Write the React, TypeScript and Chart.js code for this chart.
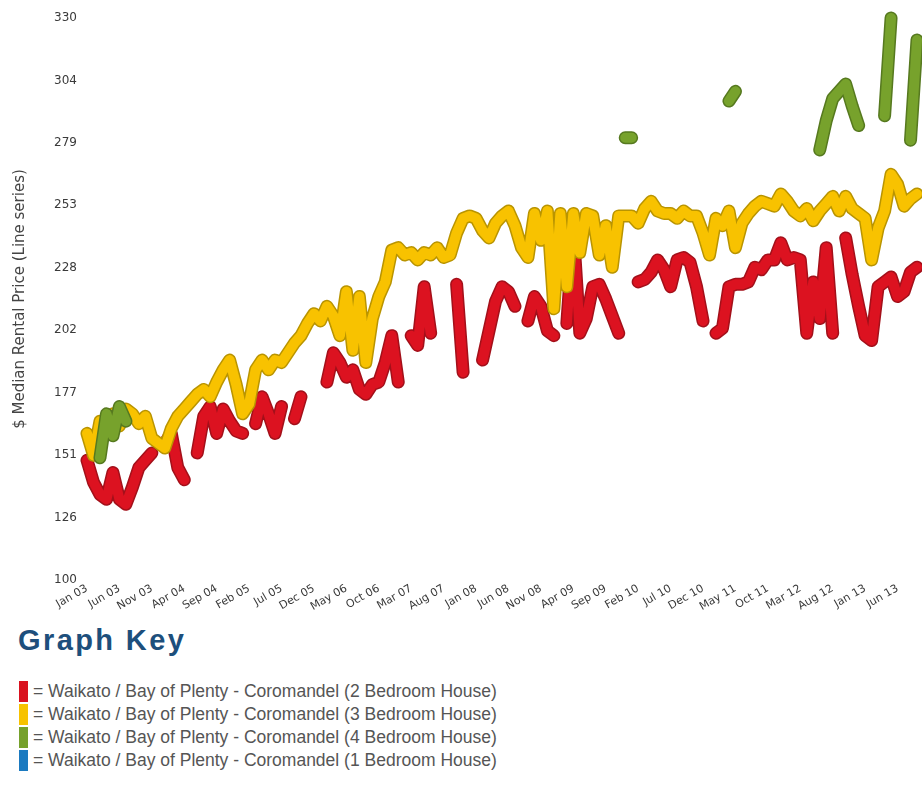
import React, { useEffect, useRef } from 'react';
import { Chart, registerables } from 'chart.js';

Chart.register(...registerables);

const MONTHS = ['Jan', 'Feb', 'Mar', 'Apr', 'May', 'Jun', 'Jul', 'Aug', 'Sep', 'Oct', 'Nov', 'Dec'];
const YEARS = ['03', '04', '05', '06', '07', '08', '09', '10', '11', '12', '13'];
// Monthly categories Jan 03 .. Sep 13
const categories: string[] = YEARS.flatMap((y) => MONTHS.map((m) => `${m} ${y}`)).slice(0, 129);

const xTickLabels = [
  'Jan 03', 'Jun 03', 'Nov 03', 'Apr 04', 'Sep 04', 'Feb 05', 'Jul 05', 'Dec 05', 'May 06', 'Oct 06',
  'Mar 07', 'Aug 07', 'Jan 08', 'Jun 08', 'Nov 08', 'Apr 09', 'Sep 09', 'Feb 10', 'Jul 10', 'Dec 10',
  'May 11', 'Oct 11', 'Mar 12', 'Aug 12', 'Jan 13', 'Jun 13',
];

const yTickValues = [100, 125.56, 151.11, 176.67, 202.22, 227.78, 253.33, 278.89, 304.44, 330];
const yTickLabels = ['100', '126', '151', '177', '202', '228', '253', '279', '304', '330'];

// 2 Bedroom House (red)
const twoBedroom: (number | null)[] = [
  149, 140, 135, 133, 144, 133, 131, 138, 146, 149,
  152, null, 156, 160, 146, 141, null, 152, 167, 171,
  160, 170, 165, 161, 160, null, 164, 175, 168, 160,
  171, null, 166, 175, null, null, null, 181, 193, 189,
  183, 186, 178, 176, 180, 181, 189, 200, 181, null,
  200, 196, 220, 201, null, null, null, 221, 185, null,
  null, 190, 202, 214, 220, 218, 212, null, 206, 216,
  212, 202, 200, null, 205, 243, 201, 207, 220, 221,
  215, 208, 201, null, null, 222, 223, 226, 231, 227,
  220, 231, 232, 230, 220, 206, null, 201, 203, 220,
  221, 221, 222, 228, 227, 231, 231, 238, 231, 232,
  231, 201, 222, 207, 236, 201, null, 240, 225, 212,
  200, 198, 220, 222, 224, 216, 218, 226, 228,
];

// 3 Bedroom House (yellow)
const threeBedroom: (number | null)[] = [
  160, 151, 165, 160, 168, 163, 170, 168, 164, 167,
  158, 156, 154, 162, 167, 170, 173, 176, 178, 175,
  181, 186, 190, 180, 168, 172, 186, 190, 186, 190,
  189, 193, 197, 200, 205, 209, 206, 212, 208, 200,
  218, 194, 216, 189, 207, 216, 222, 235, 236, 233,
  234, 231, 234, 233, 236, 232, 233, 242, 248, 249,
  248, 243, 240, 246, 249, 251, 245, 236, 232, 250,
  239, 251, 211, 250, 220, 250, 234, 250, 249, 233,
  245, 228, 249, 249, 249, 246, 252, 255, 251, 250,
  250, 248, 251, 249, 249, 242, 233, 248, 245, 251,
  236, 246, 250, 253, 255, 254, 253, 258, 255, 251,
  249, 252, 247, 251, 254, 257, 251, 257, 252, 250,
  248, 231, 244, 251, 266, 262, 253, 256, 258,
];

// 4 Bedroom House (green)
const fourBedroom: (number | null)[] = [
  null, null, 150, 168, 159, 171, 165, null, null, null,
  null, null, null, null, null, null, null, null, null, null,
  null, null, null, null, null, null, null, null, null, null,
  null, null, null, null, null, null, null, null, null, null,
  null, null, null, null, null, null, null, null, null, null,
  null, null, null, null, null, null, null, null, null, null,
  null, null, null, null, null, null, null, null, null, null,
  null, null, null, null, null, null, null, null, null, null,
  null, null, null, 281, 281, null, null, null, null, null,
  null, null, null, null, null, null, null, null, null, 296,
  300, null, null, null, null, null, null, null, null, null,
  null, null, null, 276, 288, 297, 300, 303, 294, 286,
  null, null, null, 290, 330, null, null, 280, 321,
];

const legendItems = [
  { color: '#d9121f', text: '= Waikato / Bay of Plenty - Coromandel (2 Bedroom House)' },
  { color: '#f7c200', text: '= Waikato / Bay of Plenty - Coromandel (3 Bedroom House)' },
  { color: '#76a12c', text: '= Waikato / Bay of Plenty - Coromandel (4 Bedroom House)' },
  { color: '#1b7ac0', text: '= Waikato / Bay of Plenty - Coromandel (1 Bedroom House)' },
];

const lineDs = (data: (number | null)[], color: string, width: number, order: number) => ({
  data,
  borderColor: color,
  backgroundColor: color,
  borderWidth: width,
  pointRadius: 0,
  pointHoverRadius: 0,
  tension: 0,
  spanGaps: false,
  fill: false,
  borderCapStyle: 'round' as const,
  borderJoinStyle: 'round' as const,
  clip: 10,
  order,
});

export default function App() {
  const canvasRef = useRef<HTMLCanvasElement | null>(null);

  useEffect(() => {
    if (!canvasRef.current) return;
    const tickSet = new Set(xTickLabels);
    const chart = new Chart(canvasRef.current, {
      type: 'line',
      data: {
        labels: categories,
        datasets: [
          lineDs(twoBedroom, '#a3101a', 13, 6),
          lineDs(twoBedroom, '#dc1220', 10, 5),
          lineDs(threeBedroom, '#b99400', 13, 4),
          lineDs(threeBedroom, '#f8c200', 10, 3),
          lineDs(fourBedroom, '#56791f', 13, 2),
          lineDs(fourBedroom, '#77a22c', 10, 1),
        ],
      },
      options: {
        animation: false,
        responsive: false,
        events: [],
        layout: { padding: { top: 18, right: 5, left: 0, bottom: 0 } },
        plugins: { legend: { display: false }, tooltip: { enabled: false }, title: { display: false } },
        scales: {
          x: {
            type: 'category',
            grid: { display: false, drawTicks: false },
            border: { display: false },
            afterFit: (scale: any) => {
              scale.height = 35;
            },
            ticks: {
              autoSkip: false,
              maxRotation: 30,
              minRotation: 30,
              padding: 2,
              color: '#3a3a3a',
              font: { family: 'DejaVu Sans', size: 11 },
              callback: (_v: any, i: number) => (tickSet.has(categories[i]) ? categories[i] : null),
            },
          },
          y: {
            min: 100,
            max: 330,
            grid: { display: false, drawTicks: false },
            border: { display: false },
            afterBuildTicks: (axis: any) => {
              axis.ticks = yTickValues.map((v) => ({ value: v }));
            },
            afterFit: (scale: any) => {
              scale.width = 87;
            },
            ticks: {
              padding: 10,
              color: '#3a3a3a',
              font: { family: 'DejaVu Sans', size: 12 },
              callback: (_v: any, i: number) => yTickLabels[i],
            },
            title: {
              display: true,
              text: '$ Median Rental Price (Line series)',
              color: '#444',
              font: { family: 'DejaVu Sans', size: 15 },
              padding: { top: 11, bottom: 0 },
            },
          },
        },
      },
    } as any);
    return () => chart.destroy();
  }, []);

  return (
    <div style={{ position: 'fixed', left: 0, top: 0, width: 922, height: 791, background: '#fff', overflow: 'hidden' }}>
      <canvas ref={canvasRef} width={922} height={615} style={{ position: 'absolute', left: 0, top: 0 }} />
      <div
        style={{
          position: 'absolute',
          left: 18,
          top: 622,
          fontFamily: '"Liberation Sans", Arial, sans-serif',
          fontWeight: 'bold',
          fontSize: 29,
          letterSpacing: 2.4,
          color: '#1d4f7c',
          lineHeight: '36px',
        }}
      >
        Graph Key
      </div>
      {legendItems.map((it, k) => (
        <div
          key={k}
          style={{
            position: 'absolute',
            left: 19,
            top: 680 + k * 23,
            height: 22,
            display: 'flex',
            alignItems: 'center',
            fontFamily: '"Liberation Sans", Arial, sans-serif',
            fontSize: 17.5,
            color: '#555',
            whiteSpace: 'nowrap',
          }}
        >
          <span style={{ display: 'inline-block', width: 9, height: 21, background: it.color, marginRight: 5 }} />
          <span>{it.text}</span>
        </div>
      ))}
    </div>
  );
}
